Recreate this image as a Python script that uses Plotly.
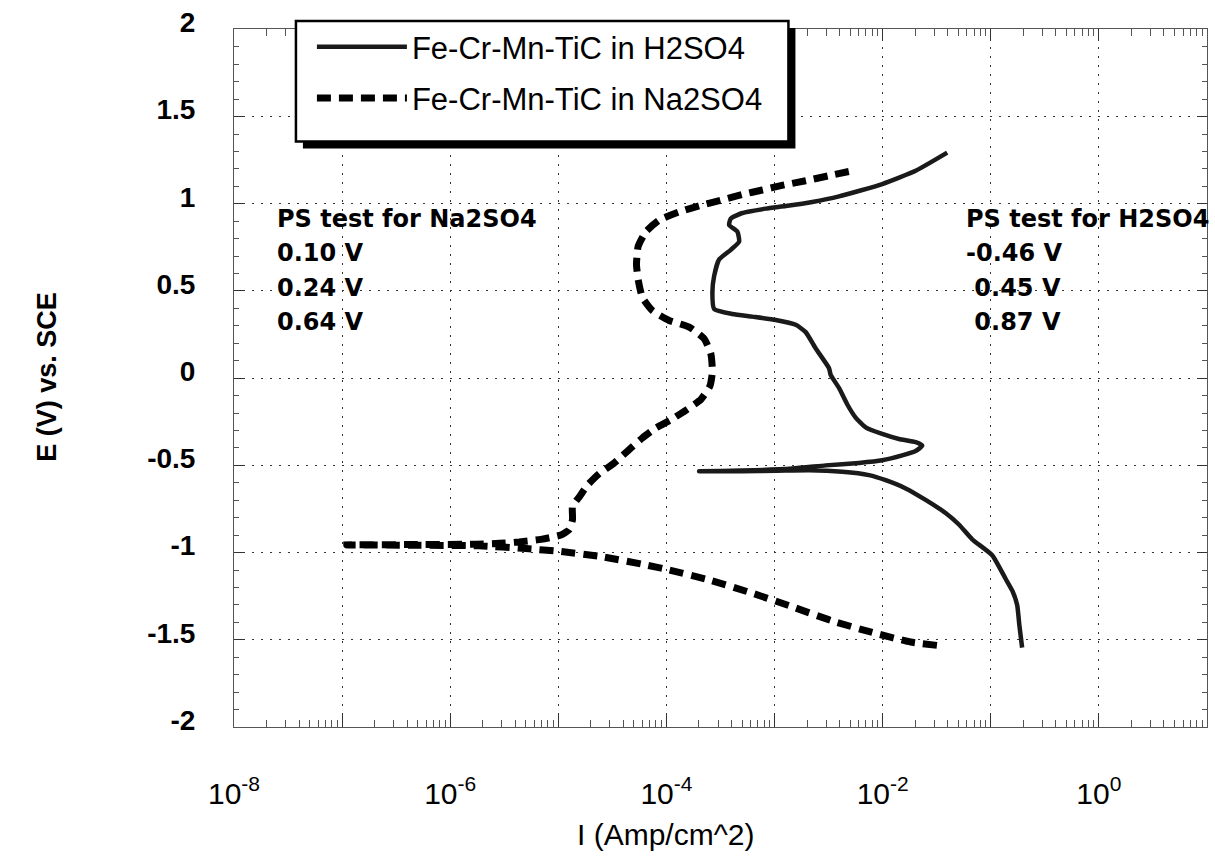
import plotly.graph_objects as go

# Potentiodynamic polarization readings: log10 of current density (A/cm^2) and potential (V vs. SCE)
h2so4_log_current = [
    -0.71, -0.735, -0.756, -0.80, -0.863, -0.987, -1.172, -1.295, -1.418, -1.603, -1.787, -1.972,
    -2.127, -2.373, -2.681, -2.989, -3.30, -3.698,
    -3.30, -2.835, -2.527, -2.219, -2.004, -1.819, -1.695, -1.634, -1.695, -1.849,
    -2.004, -2.157, -2.250, -2.327, -2.404, -2.481, -2.496, -2.619, -2.712, -2.804,
    -2.989, -3.205, -3.390, -3.559, -3.575, -3.559, -3.513, -3.405, -3.328, -3.344,
    -3.420, -3.405, -3.298, -3.081, -2.896, -2.651, -2.404, -2.004, -1.695, -1.403,
]
h2so4_potential = [
    -1.545, -1.420, -1.301, -1.220, -1.150, -1.015, -0.924, -0.839, -0.773, -0.698, -0.632, -0.585,
    -0.556, -0.537, -0.528, -0.531, -0.533, -0.534,
    -0.530, -0.518, -0.500, -0.486, -0.471, -0.443, -0.418, -0.387, -0.367, -0.349,
    -0.320, -0.282, -0.226, -0.151, -0.056, 0.019, 0.057, 0.170, 0.264, 0.306,
    0.334, 0.353, 0.368, 0.397, 0.491, 0.585, 0.680, 0.736, 0.783, 0.840,
    0.878, 0.915, 0.947, 0.972, 0.987, 1.010, 1.042, 1.113, 1.189, 1.293,
]

na2so4_log_current = [
    -1.498, -1.741, -2.096, -2.471, -2.835, -3.220, -3.590, -3.975, -4.190, -4.592,
    -4.976, -5.300, -5.731, -6.30, -6.957,
    -6.30, -5.762, -5.546, -5.361, -5.161, -4.976, -4.899, -4.869, -4.869, -4.800,
    -4.730, -4.622, -4.483, -4.360, -4.227, -4.104, -3.959, -3.821, -3.682, -3.599,
    -3.580, -3.575, -3.590, -3.652, -3.790, -3.975, -4.129, -4.222, -4.259, -4.277,
    -4.262, -4.190, -4.067, -3.883, -3.682, -3.482, -3.298, -3.113, -2.912, -2.712,
    -2.496, -2.265,
]
na2so4_potential = [
    -1.532, -1.513, -1.458, -1.391, -1.311, -1.230, -1.160, -1.100, -1.071, -1.024,
    -0.994, -0.977, -0.961, -0.958, -0.956,
    -0.954, -0.952, -0.947, -0.939, -0.924, -0.899, -0.868, -0.811, -0.735, -0.675,
    -0.613, -0.547, -0.486, -0.418, -0.345, -0.288, -0.239, -0.184, -0.122, -0.047,
    0.010, 0.048, 0.142, 0.227, 0.293, 0.331, 0.387, 0.462, 0.557, 0.651,
    0.755, 0.840, 0.906, 0.953, 0.991, 1.023, 1.053, 1.079, 1.108, 1.132,
    1.161, 1.191,
]

series_names = ["Fe-Cr-Mn-TiC in H2SO4", "Fe-Cr-Mn-TiC in Na2SO4"]

x_tick_values = [1e-8, 1e-7, 1e-6, 1e-5, 1e-4, 1e-3, 1e-2, 1e-1, 1e0, 1e1]
x_tick_labels = ["10<sup>-8</sup>", "", "10<sup>-6</sup>", "", "10<sup>-4</sup>", "",
                 "10<sup>-2</sup>", "", "10<sup>0</sup>", ""]
y_tick_values = [-2, -1.5, -1, -0.5, 0, 0.5, 1, 1.5, 2]
y_tick_labels = ["-2", "-1.5", "-1", "-0.5", "0", "0.5", "1", "1.5", "2"]

na_notes = ["PS test for Na2SO4", "0.10 V", "0.24 V", "0.64 V"]
h_notes = ["PS test for H2SO4", "-0.46 V", " 0.45 V", " 0.87 V"]

# figure geometry (pixels)
W, H = 1215, 862
L, R, T, B = 234, 1208, 20, 727


def px(x):
    return (x - L) / (R - L)


def py(y):
    return (B - y) / (B - T)


fig = go.Figure()

fig.add_trace(go.Scatter(
    x=[10 ** v for v in h2so4_log_current], y=h2so4_potential,
    mode="lines", name=series_names[0], legendgroup="a",
    line=dict(color="#1a1a1a", width=4.5, shape="spline", smoothing=0.5),
))
fig.add_trace(go.Scatter(
    x=[10 ** v for v in na2so4_log_current], y=na2so4_potential,
    mode="lines", name=series_names[1], legendgroup="b",
    line=dict(color="black", width=7, dash="14px,8px", shape="spline", smoothing=0.5),
))

minor_x = [k * 10.0 ** d for d in range(-8, 1) for k in range(2, 10)]

grid_style = dict(showgrid=True, gridcolor="#333", griddash="2px,7px", gridwidth=1.3)

fig.update_xaxes(
    type="log", range=[-8, 1],
    tickmode="array", tickvals=x_tick_values, ticktext=x_tick_labels,
    ticks="inside", ticklen=12, tickwidth=1, tickcolor="#333",
    showline=True, linecolor="#555", linewidth=1, mirror="allticks",
    zeroline=False,
    minor=dict(tickmode="array", tickvals=minor_x, ticks="inside", ticklen=7,
               tickcolor="#555", showgrid=False),
    tickfont=dict(family="Liberation Sans, Arial", size=30, color="black"),
    ticklabelstandoff=40,
    **grid_style,
)
fig.update_yaxes(
    range=[-2, 2.002],
    tickmode="array", tickvals=y_tick_values, ticktext=y_tick_labels,
    ticks="inside", ticklen=9, tickwidth=1, tickcolor="#333",
    showline=True, linecolor="#555", linewidth=1, mirror="allticks",
    zeroline=False,
    minor=dict(dtick=0.1, ticks="inside", ticklen=5, tickcolor="#555", showgrid=False),
    tickfont=dict(family="Liberation Sans, Arial", size=28, color="black", weight="bold"),
    ticklabelstandoff=32, ticklabelshift=-7, ticklabeloverflow="allow",
    **grid_style,
)

# legend frame with drop shadow
shapes = [
    dict(type="rect", xref="paper", yref="paper",
         x0=px(303), x1=px(796), y0=py(141), y1=py(19),
         fillcolor="black", line=dict(width=0), layer="above"),
    dict(type="rect", xref="paper", yref="paper",
         x0=px(296), x1=px(789), y0=py(134), y1=py(12),
         fillcolor="white", line=dict(color="black", width=2.5), layer="above"),
]

annotations = []
note_font = dict(family="DejaVu Sans", size=24, color="black", weight="bold")
for i, txt in enumerate(na_notes):
    annotations.append(dict(text=txt, xref="paper", yref="paper",
                            x=px(275), y=py(212 + 35 * i), xanchor="left", yanchor="middle",
                            showarrow=False, font=note_font))
for i, txt in enumerate(h_notes):
    annotations.append(dict(text=txt, xref="paper", yref="paper",
                            x=px(965), y=py(212 + 35 * i), xanchor="left", yanchor="middle",
                            showarrow=False, font=note_font))

annotations.append(dict(text="I (Amp/cm^2)", xref="paper", yref="paper",
                        x=px(666), y=py(836), xanchor="center", yanchor="middle",
                        showarrow=False,
                        font=dict(family="Liberation Sans, Arial", size=30, color="black")))
annotations.append(dict(text="E (V) vs. SCE", xref="paper", yref="paper",
                        x=px(46), y=py(372), xanchor="center", yanchor="middle",
                        textangle=-90, showarrow=False,
                        font=dict(family="Liberation Sans, Arial", size=27, color="black",
                                  weight="bold")))

fig.update_layout(
    width=W, height=H,
    margin=dict(l=L, r=W - R, t=T, b=H - B),
    paper_bgcolor="white", plot_bgcolor="white",
    showlegend=True,
    legend=dict(
        x=px(312), y=py(11), xanchor="left", yanchor="top",
        bgcolor="rgba(0,0,0,0)", borderwidth=0,
        font=dict(family="Liberation Sans, Arial", size=31, color="black"),
        itemwidth=90, tracegroupgap=8,
    ),
    shapes=shapes,
    annotations=annotations,
)

fig.write_html("out.html")
